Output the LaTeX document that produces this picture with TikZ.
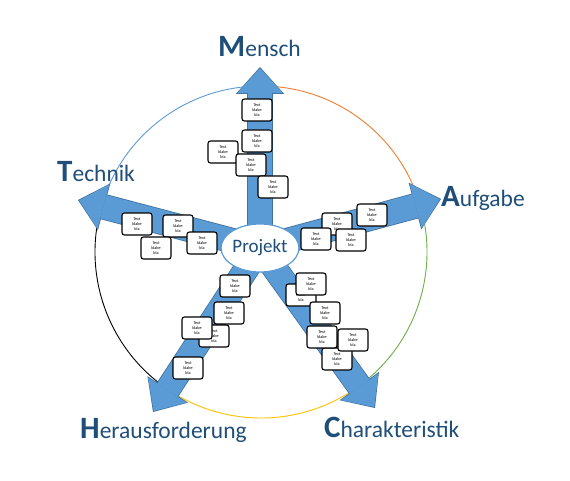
\documentclass[tikz,border=0pt]{standalone}
\usepackage{fontspec}
\setmainfont{Carlito}
\usetikzlibrary{shapes.geometric, arrows.meta}

\definecolor{pptblue}{HTML}{5B9BD5}
\definecolor{pptedge}{HTML}{41719C}
\definecolor{pptorange}{HTML}{ED7D31}
\definecolor{pptgreen}{HTML}{70AD47}
\definecolor{pptyellow}{HTML}{FFC000}
\definecolor{navy}{HTML}{1F4E79}

\newcommand{\kopf}[2]{{\fontsize{31}{31}\selectfont\bfseries #1}{\fontsize{23.5}{23.5}\selectfont #2}}

\tikzset{
  bigarrow/.style={line width=24pt, draw=pptblue, shorten >=1.2pt,
    -{Triangle[length=25pt,width=46pt,line width=0pt]},
    preaction={draw=pptedge, line width=25.6pt, shorten >=0pt,
      -{Triangle[length=27pt,width=48.5pt,line width=0pt]}}},
  card/.style={draw, line width=1.1pt, fill=white, rounded corners=2.5pt,
    minimum width=30pt, minimum height=22pt, inner sep=0pt, align=center,
    font=\fontsize{4.2}{5.2}\selectfont},
  lbl/.style={anchor=base west, text=navy, inner sep=0pt},
  ring/.style={line width=0.9pt}
}

\begin{document}
\begin{tikzpicture}[x=1pt,y=-1pt]
    \useasboundingbox (0,0) rectangle (570,481);
    \coordinate (z) at (261,252);
    \coordinate (o) at (260,248);
    \foreach \c/\a/\b in {pptblue/-90/-164, pptorange/-90/-17, pptgreen/-17/54,
        pptyellow/54/124, black/124/196}
        \draw[ring,\c] ([shift={(\a:166)}]z) arc[start angle=\a, end angle=\b, radius=166];

    \coordinate (tm) at (260,67);
    \coordinate (ta) at (441,199);
    \coordinate (tt) at (78,200);
    \coordinate (th) at (153,412);
    \coordinate (tc) at (375,408);
    \foreach \t in {tm,ta,tt,th,tc}
        \draw[bigarrow] (o) -- (\t);

    \node[ellipse, draw=pptblue, line width=1.2pt, fill=white, inner sep=0pt,
        minimum width=74pt, minimum height=48pt, text=navy,
        font=\fontsize{19}{19}\selectfont] (P) at (o) {Projekt};

    \foreach \x/\y [count=\i] in {257/110, 257/141, 223/152, 251/165, 273/187,
        137/224, 178/226, 156/248, 202/243,
        337/224, 316/239, 351/240, 372/215,
        235/286, 229/313, 214/336, 197/328, 188/368,
        301/295, 311/284, 325/313, 337/359, 322/337, 353/340}
        \node[card] (k\i) at (\x,\y) {Text\\blabe\\bla};

    \node[lbl] (mensch) at (218,57) {\kopf{M}{ensch}};
    \node[lbl] (technik) at (57,182) {\kopf{T}{echnik}};
    \node[lbl] (aufgabe) at (441,207) {\kopf{A}{ufgabe}};
    \node[lbl] (heraus) at (80,438) {\kopf{H}{erausforderung}};
    \node[lbl] (charakt) at (324,437) {\kopf{C}{harakteristik}};
\end{tikzpicture}
\end{document}
